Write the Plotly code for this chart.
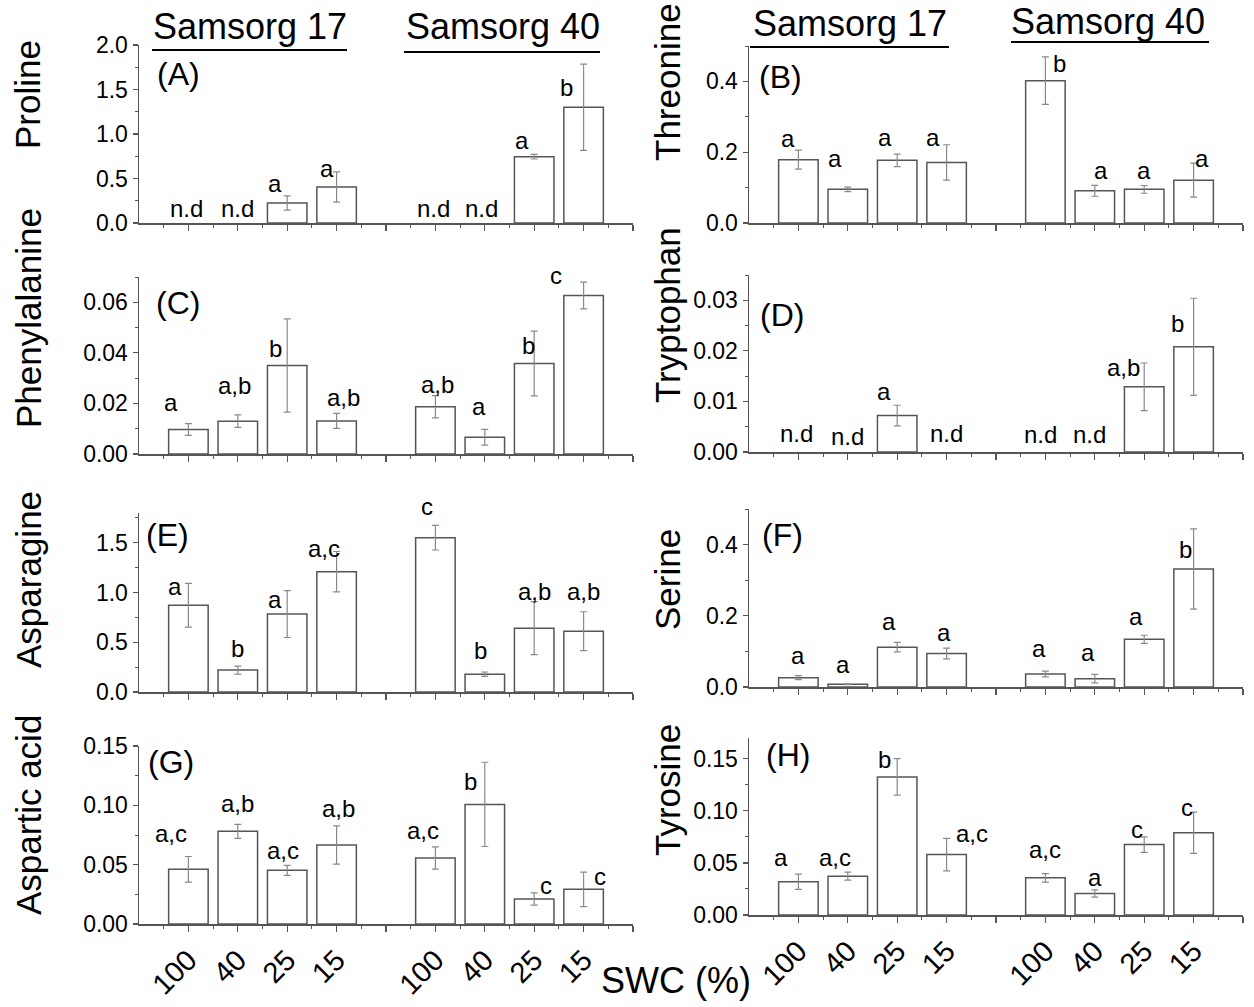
import plotly.graph_objects as go

W, H = 1254, 1007

# ---------------- data ----------------
x_pos = [1, 2, 3, 4, 6, 7, 8, 9]
swc_labels = ["100", "40", "25", "15"]
cultivars = ["Samsorg 17", "Samsorg 40"]

proline = [None, None, 0.225, 0.405, None, None, 0.745, 1.30]
proline_err = [0, 0, 0.08, 0.17, 0, 0, 0.026, 0.485]
proline_sig = ["n.d", "n.d", "a", "a", "n.d", "n.d", "a", "b"]

threonine = [0.179, 0.095, 0.177, 0.171, 0.402, 0.091, 0.095, 0.121]
threonine_err = [0.027, 0.0066, 0.0175, 0.05, 0.067, 0.0155, 0.011, 0.048]
threonine_sig = ["a", "a", "a", "a", "b", "a", "a", "a"]

phenylalanine = [0.0097, 0.013, 0.035, 0.0131, 0.0187, 0.0066, 0.0358, 0.0627]
phenylalanine_err = [0.0023, 0.00245, 0.0184, 0.003, 0.0044, 0.0031, 0.0128, 0.0053]
phenylalanine_sig = ["a", "a,b", "b", "a,b", "a,b", "a", "b", "c"]

tryptophan = [None, None, 0.0072, None, None, None, 0.0129, 0.0208]
tryptophan_err = [0, 0, 0.00204, 0, 0, 0, 0.0047, 0.0096]
tryptophan_sig = ["n.d", "n.d", "a", "n.d", "n.d", "n.d", "a,b", "b"]

asparagine = [0.872, 0.22, 0.784, 1.21, 1.552, 0.179, 0.642, 0.612]
asparagine_err = [0.22, 0.04, 0.236, 0.203, 0.124, 0.022, 0.267, 0.195]
asparagine_sig = ["a", "b", "a", "a,c", "c", "b", "a,b", "a,b"]

serine = [0.0263, 0.0075, 0.112, 0.094, 0.0366, 0.0235, 0.134, 0.3315]
serine_err = [0.0056, 0.001, 0.0136, 0.015, 0.008, 0.0117, 0.0113, 0.1127]
serine_sig = ["a", "a", "a", "a", "a", "a", "a", "b"]

aspartic = [0.0461, 0.0781, 0.0452, 0.0666, 0.0556, 0.1008, 0.0211, 0.0292]
aspartic_err = [0.0108, 0.0059, 0.0042, 0.0161, 0.0094, 0.0355, 0.0052, 0.0145]
aspartic_sig = ["a,c", "a,b", "a,c", "a,b", "a,c", "b", "c", "c"]

tyrosine = [0.0319, 0.0373, 0.1326, 0.058, 0.0357, 0.0207, 0.0676, 0.079]
tyrosine_err = [0.0073, 0.0038, 0.0175, 0.0156, 0.0041, 0.0035, 0.0075, 0.0199]
tyrosine_sig = ["a", "a,c", "b", "a,c", "a,c", "a", "c", "c"]

# ---------------- layout / style (pixel geometry) ----------------
FONT = "Liberation Sans, Arial, sans-serif"
AX_COL = "#555555"
COLS = {"L": (139, 633), "R": (749, 1243)}

# (title, vals, err, sig, col, top_px, bottom_px, ymax, dtick, fmt, letter, letter_xy, title_xy, label dx, label dy)
panels = [
    ("Proline", proline, proline_err, proline_sig, "L", 45, 223, 2.0, 0.5, ".1f",
     "(A)", (156, 74), (28, 95),
     [-2, 0, -12, -10, -2, -3, -12, -17], [5, 5, 10, 9, 5, 5, 7, 10]),
    ("Threonine", threonine, threonine_err, threonine_sig, "R", 46, 223, 0.5, 0.2, ".1f",
     "(B)", (758, 77), (667, 82),
     [-10, -13, -12, -14, 14, 6, 0, 8], [12, 21, 13, 15, 8, 11, 9, 12]),
    ("Phenylalanine", phenylalanine, phenylalanine_err, phenylalanine_sig, "L", 277, 454, 0.07, 0.02, ".2f",
     "(C)", (155, 303), (28, 318),
     [-17, -3, -12, 7, 2, -6, -6, -28], [17, 26, 8, 14, 13, 21, 8, 10]),
    ("Tryptophan", tryptophan, tryptophan_err, tryptophan_sig, "R", 275, 452, 0.035, 0.01, ".2f",
     "(D)", (759, 315), (667, 315),
     [-2, 0, -13, 0, -5, -5, -21, -16], [9, 6, 15, 9, 8, 8, 10, 14]),
    ("Asparagine", asparagine, asparagine_err, asparagine_sig, "L", 513, 692, 1.8, 0.5, ".1f",
     "(E)", (145, 535), (28, 580),
     [-13, 0, -12, -13, -8, -4, 0, 0], [9, 12, 5, 14, 22, 14, 27, 30]),
    ("Serine", serine, serine_err, serine_sig, "R", 509, 687, 0.5, 0.2, ".1f",
     "(F)", (761, 535), (667, 580),
     [0, -5, -8, -3, -6, -7, -8, -8], [13, 10, 16, 12, 16, 17, 13, 10]),
    ("Aspartic acid", aspartic, aspartic_err, aspartic_sig, "L", 746, 924, 0.15, 0.05, ".2f",
     "(G)", (147, 762), (28, 815),
     [-17, 0, -4, 2, -12, -14, 12, 16], [26, 18, 10, 27, 18, 13, 4, 3]),
    ("Tyrosine", tyrosine, tyrosine_err, tyrosine_sig, "R", 738, 915, 0.17, 0.05, ".2f",
     "(H)", (765, 755), (667, 790),
     [-17, -13, -13, 25, 0, 0, -7, -7], [15, 9, 8, 12, 19, 6, 6, 16]),
]


def px(xp):
    return xp / W


def py(yp):
    return 1 - yp / H


fig = go.Figure()
annotations = []
shapes = []
ticktext = swc_labels + [""] + swc_labels + [""]
tickvals = [1, 2, 3, 4, 5, 6, 7, 8, 9, 10]
minor_vals = [0.5 + i for i in range(10)]
LAB_FS = 24

for i, (title, vals, err, sig, col, top, bot, ymax, dtick, fmt, letter, lxy, txy, ldx, ldy) in enumerate(panels, start=1):
    xa = "x" if i == 1 else f"x{i}"
    ya = "y" if i == 1 else f"y{i}"
    fig.add_trace(go.Bar(
        x=x_pos, y=vals, width=0.8, xaxis=xa, yaxis=ya, showlegend=False,
        marker=dict(color="white", line=dict(color=AX_COL, width=1.5)),
        error_y=dict(type="data", array=err, visible=True, color="#8a8a8a",
                     thickness=1.2, width=3.5),
    ))
    x0, x1 = COLS[col]
    bottom_row = i >= 7
    xkey = "xaxis" if i == 1 else f"xaxis{i}"
    ykey = "yaxis" if i == 1 else f"yaxis{i}"
    fig.layout[xkey] = dict(
        domain=[px(x0), px(x1)], range=[0, 10], anchor=ya, automargin=False,
        tickmode="array", tickvals=tickvals, ticktext=ticktext,
        showticklabels=bottom_row, tickangle=-45,
        tickfont=dict(size=29, color="black", family=FONT),
        ticks="outside", ticklen=6, tickwidth=1.2, tickcolor=AX_COL,
        minor=dict(tickmode="array", tickvals=minor_vals, ticks="outside",
                   ticklen=3, tickwidth=1, tickcolor=AX_COL),
        showline=True, linecolor=AX_COL, linewidth=1.5,
        showgrid=False, zeroline=False, fixedrange=True,
    )
    fig.layout[ykey] = dict(
        domain=[py(bot), py(top)], range=[0, ymax], anchor=xa, automargin=False,
        tick0=0, dtick=dtick, tickformat=fmt,
        tickfont=dict(size=23, color="black", family=FONT),
        ticks="outside", ticklen=5, tickwidth=1.2, tickcolor=AX_COL,
        minor=dict(tick0=0, dtick=dtick / 2, ticks="outside", ticklen=3,
                   tickwidth=1, tickcolor=AX_COL),
        showline=True, linecolor=AX_COL, linewidth=1.5,
        showgrid=False, zeroline=False, fixedrange=True,
    )
    # significance letters / n.d
    for xv, v, s, dx, dy in zip(x_pos, vals, sig, ldx, ldy):
        annotations.append(dict(
            x=xv, y=(v if v is not None else 0), xref=xa, yref=ya,
            text=s, showarrow=False, xanchor="center", yanchor="bottom",
            xshift=dx, yshift=dy - 6,
            font=dict(size=LAB_FS, color="black", family=FONT),
        ))
    # panel letter
    annotations.append(dict(
        x=px(lxy[0] - 1), y=py(lxy[1]), xref="paper", yref="paper",
        text=letter, showarrow=False, xanchor="left", yanchor="middle",
        font=dict(size=32, color="black", family=FONT),
    ))
    # axis title
    annotations.append(dict(
        x=px(txy[0]), y=py(txy[1]), xref="paper", yref="paper",
        text=title, showarrow=False, textangle=-90,
        xanchor="center", yanchor="middle",
        font=dict(size=35, color="black", family=FONT),
    ))

# cultivar headers with underlines
headers = [
    (cultivars[0], 249.5, 40, 152, 347, 50),
    (cultivars[1], 503, 40, 404, 600, 52),
    (cultivars[0], 850, 37, 750, 949, 47),
    (cultivars[1], 1108, 35, 1011, 1209, 42),
]
for text, cx, base, lx0, lx1, ly in headers:
    annotations.append(dict(
        x=px(cx), y=py(base + 8.6), xref="paper", yref="paper",
        text=text, showarrow=False, xanchor="center", yanchor="bottom",
        font=dict(size=36, color="black", family=FONT),
    ))
    shapes.append(dict(type="line", xref="paper", yref="paper",
                       x0=px(lx0), x1=px(lx1), y0=py(ly), y1=py(ly),
                       line=dict(color="black", width=2)))

annotations.append(dict(
    x=px(676), y=py(1003), xref="paper", yref="paper",
    text="SWC (%)", showarrow=False, xanchor="center", yanchor="bottom",
    font=dict(size=36, color="black", family=FONT),
))

fig.update_layout(
    width=W, height=H, margin=dict(l=0, r=0, t=0, b=0),
    paper_bgcolor="white", plot_bgcolor="white",
    font=dict(family=FONT, color="black"),
    annotations=annotations, shapes=shapes, showlegend=False,
    bargap=0,
)

fig.write_html(
    "out.html",
    config={"displayModeBar": False, "staticPlot": True},
    post_script="document.body.style.margin='0px';document.body.style.overflow='hidden';",
)
